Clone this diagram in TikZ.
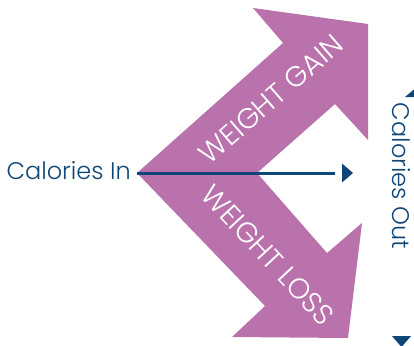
\documentclass[tikz,border=0pt]{standalone}
\usepackage{fontspec}
\setmainfont{Poppins Light}
\usetikzlibrary{arrows.meta}

\definecolor{weightpurple}{HTML}{B972AB}
\definecolor{calblue}{HTML}{0F4677}

\begin{document}
\begin{tikzpicture}[x=1pt, y=-1pt,
    caltext/.style={text=calblue, font=\fontsize{24}{24}\selectfont, inner sep=0pt},
    bandtext/.style={text=white, font=\fontsize{28.5}{28.5}\selectfont, inner sep=0pt}]
    \useasboundingbox (0,0) rectangle (414,345);
    \clip (0,0) rectangle (414,345);

    % Weight gain arrow (upper)
    \fill[weightpurple] (137,173) -- (283,43) -- (253,8) -- (368,24) -- (368,140) -- (335,104) -- (257,173) -- cycle;
    % Weight loss arrow (lower)
    \fill[weightpurple] (137,173) -- (257,173) -- (327,253) -- (362,223) -- (348,338) -- (232,337) -- (265,306) -- cycle;

    \node[bandtext, rotate=41] (gain) at (271,99) {WEIGHT GAIN};
    \node[bandtext, rotate=-47] (loss) at (268,255) {WEIGHT LOSS};

    % Calories in, straight through
    \node[caltext, anchor=east] (cin) at (131,171) {Calories In};
    \coordinate (cend) at (335,173);
    \draw[calblue, line width=3pt] ([xshift=6pt]cin.east |- cend) -- (cend);
    \fill[calblue] (342,163.5) -- (353,173) -- (342,182.5) -- cycle;

    % Calories out, with its two tips
    \node[caltext, rotate=-90] (cout) at (401,176) {Calories Out};
    \fill[calblue] (405,97) -- (414.5,89) -- (424,97) -- cycle;
    \fill[calblue] (392,336) -- (411,336) -- (401.5,347) -- cycle;
\end{tikzpicture}
\end{document}
